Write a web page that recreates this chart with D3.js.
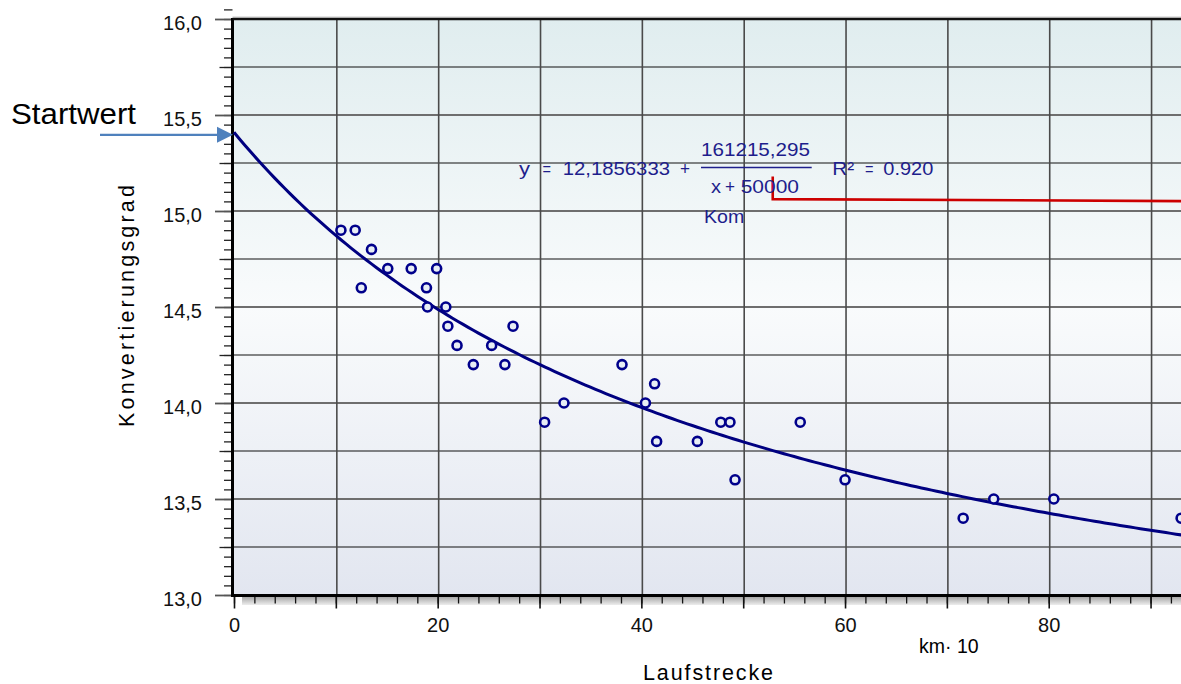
<!DOCTYPE html>
<html><head><meta charset="utf-8">
<script src="https://cdn.jsdelivr.net/npm/d3@7"></script>
<style>
body{margin:0;background:#fff}
svg{display:block}
text{font-family:"Liberation Sans",Arial,Helvetica,sans-serif}
</style>
</head><body>
<svg id="chart" width="1181" height="684"></svg>
<script>
// ---- data ----
const distance   = [10.5,11.9,13.5,15.1,17.4,19.9,12.5,18.9,19.0,20.8,21.0,27.4,21.9,25.3,23.5,26.6,
                    30.5,32.4,38.1,41.3,40.4,41.5,45.5,47.8,48.7,49.2,55.6,60.0,71.6,74.6,80.5,93.0];
const conversion = [14.9,14.9,14.8,14.7,14.7,14.7,14.6,14.6,14.5,14.5,14.4,14.4,14.3,14.3,14.2,14.2,
                    13.9,14.0,14.2,14.1,14.0,13.8,13.8,13.9,13.9,13.6,13.9,13.6,13.4,13.5,13.5,13.4];
const yLabelTicks = [13,13.5,14,14.5,15,15.5,16];
const yGridTicks  = [13.25,13.5,13.75,14,14.25,14.5,14.75,15,15.25,15.5,15.75];
const xLabelTicks = [0,20,40,60,80];
const xGridTicks  = [10,20,30,40,50,60,70,80,90];
// fitted curve as printed on the chart: y = a + b / (x + c), x in km*10 -> *1000
const fitIntercept = 12.1856333, fitNumerator = 161215.295, fitOffset = 50000, fitUnit = 1000;
const fitSampleX = d3.range(0, 96, 0.5);
// red marker line (annotation)
const redMarkerX = [52.9, 52.9, 95];
const redMarkerY = [15.18, 15.062, 15.051];

const svg = d3.select('#chart');
const W = 1181;
const x = d3.scaleLinear().domain([0,100]).range([234, 1252.4]);
const y = d3.scaleLinear().domain([13,16]).range([595, 19]);
const fmt = v => d3.format('.1f')(v).replace('.', ',');
const fit = v => fitIntercept + fitNumerator/(v*fitUnit + fitOffset);

const defs = svg.append('defs');
const bg = defs.append('linearGradient').attr('id','bg').attr('x1',0).attr('y1',0).attr('x2',0).attr('y2',1);
bg.append('stop').attr('offset','0%').attr('stop-color','#e0edef');
bg.append('stop').attr('offset','50%').attr('stop-color','#f9fbfc');
bg.append('stop').attr('offset','100%').attr('stop-color','#e2e6f0');
const band = defs.append('linearGradient').attr('id','band').attr('x1',0).attr('y1',0).attr('x2',0).attr('y2',1);
band.append('stop').attr('offset','0%').attr('stop-color','#a8a8a8');
band.append('stop').attr('offset','100%').attr('stop-color','#ededed');
defs.append('clipPath').attr('id','plot').append('rect')
  .attr('x', x(0)-1).attr('y', y(16)).attr('width', W - x(0) + 40).attr('height', y(13)-y(16));

// plot background
svg.append('rect').attr('x', x(0)).attr('y', y(16)).attr('width', W - x(0) + 40)
  .attr('height', y(13)-y(16)).attr('fill','url(#bg)');

// grid
const grid = svg.append('g').attr('clip-path','url(#plot)');
grid.selectAll('line.h').data(yGridTicks).join('line').attr('class','h')
  .attr('x1', x(0)).attr('x2', W+10).attr('y1', d=>y(d)).attr('y2', d=>y(d))
  .attr('stroke', d => (Math.round(d*4)%2===0) ? '#6e6e6e' : '#111')
  .attr('stroke-width', d => (Math.round(d*4)%2===0) ? 2 : 1.2);
grid.selectAll('line.v').data(xGridTicks).join('line').attr('class','v')
  .attr('y1', y(16)).attr('y2', y(13)).attr('x1', d=>x(d)+1).attr('x2', d=>x(d)+1)
  .attr('stroke', '#4a4a4a').attr('stroke-width', 1.6);

// shaded band below x axis
svg.append('rect').attr('x', 242).attr('y', y(13)+2).attr('width', W-242).attr('height', 8).attr('fill','url(#band)');

// y axis ticks
const yAxisX = 232.5;
svg.append('g').attr('transform',`translate(${yAxisX},0)`)
  .call(d3.axisLeft(y).tickValues(d3.range(130,161,0.5).map(v=>v/10)).tickSize(8.5).tickFormat(''))
  .call(g=>g.select('.domain').remove())
  .call(g=>g.selectAll('line').attr('stroke','#111').attr('stroke-width',1.2));
svg.append('g').attr('transform',`translate(${yAxisX},0)`)
  .call(d3.axisLeft(y).tickValues([13.25,13.75,14.25,14.75,15.25,15.75]).tickSize(13).tickFormat(''))
  .call(g=>g.select('.domain').remove())
  .call(g=>g.selectAll('line').attr('stroke','#222').attr('stroke-width',1.3));
svg.append('g').attr('transform',`translate(${yAxisX},0)`)
  .call(d3.axisLeft(y).tickValues(yLabelTicks).tickSize(17.5).tickPadding(13).tickFormat(fmt))
  .call(g=>g.select('.domain').remove())
  .call(g=>g.selectAll('line').attr('stroke','#555').attr('stroke-width',1.8))
  .call(g=>g.selectAll('text').attr('font-size','20px').attr('font-family','"Liberation Sans",Arial,sans-serif')
            .attr('fill','#111').attr('dy','0.5em'));

// x axis ticks
const xAxisY = 595.5;
svg.append('g').attr('transform',`translate(0,${xAxisY})`)
  .call(d3.axisBottom(x).tickValues(d3.range(0,101,2)).tickSize(8).tickFormat(''))
  .call(g=>g.select('.domain').remove())
  .call(g=>g.selectAll('line').attr('stroke','#111').attr('stroke-width',1.3));
svg.append('g').attr('transform',`translate(0,${xAxisY})`)
  .call(d3.axisBottom(x).tickValues(d3.range(0,101,10)).tickSize(13).tickFormat(''))
  .call(g=>g.select('.domain').remove())
  .call(g=>g.selectAll('line').attr('stroke','#111').attr('stroke-width',1.6));
svg.append('g').attr('transform',`translate(0,${xAxisY})`)
  .call(d3.axisBottom(x).tickValues(xLabelTicks).tickSize(0).tickPadding(22.5).tickFormat(d3.format('d')))
  .call(g=>g.select('.domain').remove())
  .call(g=>g.selectAll('text').attr('font-size','20px').attr('font-family','"Liberation Sans",Arial,sans-serif')
            .attr('fill','#111'));

// axis lines and frame
svg.append('line').attr('x1', yAxisX).attr('x2', yAxisX).attr('y1', y(16)-1).attr('y2', xAxisY+1.5)
  .attr('stroke','#000').attr('stroke-width',3);
svg.append('line').attr('x1', yAxisX-1.5).attr('x2', W).attr('y1', xAxisY).attr('y2', xAxisY)
  .attr('stroke','#000').attr('stroke-width',3);
svg.append('line').attr('x1', yAxisX).attr('x2', W).attr('y1', y(16)-2).attr('y2', y(16)-2)
  .attr('stroke','#c8c8c8').attr('stroke-width',1);
svg.append('line').attr('x1', yAxisX).attr('x2', W).attr('y1', y(16)).attr('y2', y(16))
  .attr('stroke','#111').attr('stroke-width',2.4);

// fitted curve
const plot = svg.append('g').attr('clip-path','url(#plot)');
plot.append('path').datum(fitSampleX)
  .attr('d', d3.line().x(d=>x(d)).y(d=>y(fit(d))))
  .attr('fill','none').attr('stroke','#000080').attr('stroke-width',3);

// red marker
plot.append('path').datum(d3.range(redMarkerX.length))
  .attr('d', d3.line().x(i=>x(redMarkerX[i])).y(i=>y(redMarkerY[i])))
  .attr('fill','none').attr('stroke','#cc0000').attr('stroke-width',2.6);

// scatter points
plot.selectAll('circle.pt').data(distance.map((d,i)=>({d, c:conversion[i]}))).join('circle')
  .attr('class','pt').attr('cx', p=>x(p.d)).attr('cy', p=>y(p.c)).attr('r', 4.5)
  .attr('fill','#e8eef5').attr('stroke','#00008b').attr('stroke-width',2.6);

// formula annotation
const navy = '#1e1e8c';
const ft = (txt, px, py, len) => {
  const t = svg.append('text').attr('x',px).attr('y',py).attr('fill',navy).attr('font-size','19px').text(txt);
  if (len) t.attr('textLength',len).attr('lengthAdjust','spacingAndGlyphs');
  return t;
};
ft('y', 519, 175, 11);
ft('=', 542.5, 175, 8.5);
ft('12,1856333', 562.7, 175, 107.3);
ft('+', 680, 175, 10);
ft('161215,295', 701, 156, 109);
svg.append('line').attr('x1',701).attr('x2',811.7).attr('y1',167.5).attr('y2',167.5).attr('stroke',navy).attr('stroke-width',1.3);
ft('x', 711, 192.7, 10);
ft('+', 725, 192.7, 10);
ft('50000', 740.7, 192.7, 58.3);
ft('R²', 832.3, 175, 22);
ft('=', 865, 175, 8.5);
ft('0.920', 883.3, 175, 50);
ft('Kom', 704, 222.7, 40.3);

// Startwert arrow
const tipX = x(0), tipY = y(fit(0));
svg.append('line').attr('x1',100).attr('x2',tipX-16).attr('y1',tipY+2.5).attr('y2',tipY+2.5)
  .attr('stroke','#4f81bd').attr('stroke-width',2.2);
svg.append('path').attr('d',`M${tipX-17},${tipY-5.5} L${tipX-1},${tipY+2.5} L${tipX-17},${tipY+10.5} Z`)
  .attr('fill','#4f81bd');
svg.append('text').attr('x',11).attr('y',123.5).attr('font-size','30px').attr('fill','#000')
  .attr('textLength',125).attr('lengthAdjust','spacingAndGlyphs').text('Startwert');

// axis titles
svg.append('text').attr('transform','translate(134,306) rotate(-90)').attr('text-anchor','middle')
  .attr('font-size','21.5px').attr('fill','#000').attr('textLength',242).text('Konvertierungsgrad');
svg.append('text').attr('x',708).attr('y',679.5).attr('text-anchor','middle')
  .attr('font-size','21.5px').attr('fill','#000').attr('textLength',130).text('Laufstrecke');
svg.append('text').attr('x',919).attr('y',653).attr('font-size','19.5px').attr('fill','#000').text('km· 10');
</script>
</body></html>
